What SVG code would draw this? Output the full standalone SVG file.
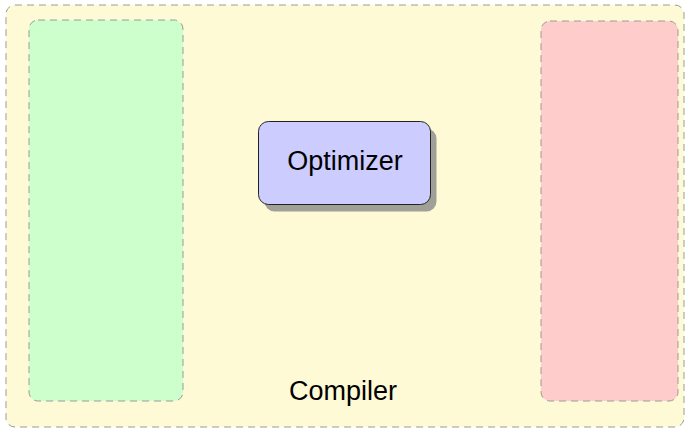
<svg xmlns="http://www.w3.org/2000/svg" width="687" height="430" viewBox="0 0 687 430">
<style>
.cluster{stroke:#9a9a9a;stroke-width:1;stroke-dasharray:7,5}
.lbl{font-family:"Liberation Sans",Arial,sans-serif;fill:#000;text-anchor:middle}
</style>
<rect width="687" height="430" fill="#ffffff"/>
<g id="compiler">
<rect class="cluster" x="6" y="5" width="678" height="422" rx="9" fill="#fffad6"/>
<text class="lbl" x="343" y="400" font-size="27">Compiler</text>
</g>
<g id="frontend">
<rect class="cluster" x="29" y="20" width="154" height="381" rx="9" fill="#ccffcc"/>
</g>
<g id="backend">
<rect class="cluster" x="541" y="21" width="137" height="380" rx="9" fill="#ffcccc"/>
</g>
<g id="optimizer">
<rect x="264.5" y="128.5" width="172" height="83" rx="10" fill="#a0a098"/>
<rect x="258.5" y="121.5" width="172" height="83" rx="10" fill="#ccccff" stroke="#222" stroke-width="1"/>
<text class="lbl" x="345" y="170" font-size="27">Optimizer</text>
</g>
<g id="connectors"/>
</svg>
